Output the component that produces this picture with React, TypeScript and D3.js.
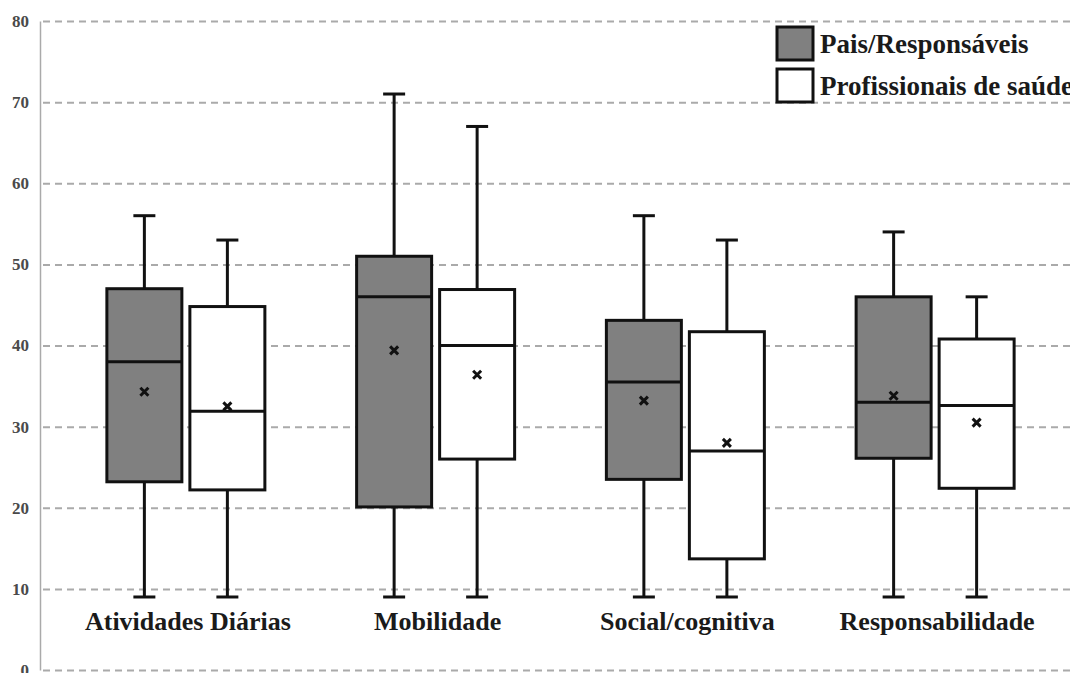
import React, { useRef, useEffect } from "react";
import { select, scaleLinear, scaleBand, axisLeft } from "d3";

// categories and series
const categories = ["Atividades Diárias", "Mobilidade", "Social/cognitiva", "Responsabilidade"];
const seriesNames = ["Pais/Responsáveis", "Profissionais de saúde"];
const seriesFill = ["#808080", "#ffffff"];
const yTicks = [0, 10, 20, 30, 40, 50, 60, 70, 80];

// Pais/Responsáveis
const paisMin = [9, 9, 9, 9];
const paisQ1 = [23.2, 20.1, 23.5, 26.1];
const paisMedian = [38, 46, 35.5, 33];
const paisQ3 = [47, 51, 43.1, 46];
const paisMax = [56, 71, 56, 54];
const paisMean = [34.3, 39.4, 33.2, 33.8];

// Profissionais de saúde
const profMin = [9, 9, 9, 9];
const profQ1 = [22.2, 26, 13.7, 22.4];
const profMedian = [31.9, 40, 27, 32.6];
const profQ3 = [44.8, 46.9, 41.7, 40.8];
const profMax = [53, 67, 53, 46];
const profMean = [32.5, 36.4, 28, 30.5];

interface BoxDatum {
  category: string;
  series: string;
  min: number;
  q1: number;
  median: number;
  q3: number;
  max: number;
  mean: number;
}

const boxes: BoxDatum[] = categories.flatMap((c, i) => [
  { category: c, series: seriesNames[0], min: paisMin[i], q1: paisQ1[i], median: paisMedian[i], q3: paisQ3[i], max: paisMax[i], mean: paisMean[i] },
  { category: c, series: seriesNames[1], min: profMin[i], q1: profQ1[i], median: profMedian[i], q3: profQ3[i], max: profMax[i], mean: profMean[i] },
]);

const WIDTH = 1070;
const HEIGHT = 673;
const FONT = "'Liberation Serif', 'Times New Roman', serif";

const App: React.FC = () => {
  const svgRef = useRef<SVGSVGElement>(null);

  useEffect(() => {
    const svg = select(svgRef.current!);
    svg.selectAll("*").remove();

    const axisX = 40;

    const y = scaleLinear().domain([0, 80]).range([670, 21]);

    // group bands, then one band per series inside a group
    const x = scaleBand<string>().domain(categories).range([61, 1060]).padding(0);
    const xSub = scaleBand<string>()
      .domain(seriesNames)
      .range([x.bandwidth() / 2 - 79, x.bandwidth() / 2 + 79])
      .paddingInner(0.0964)
      .paddingOuter(0);

    // y axis with dashed gridlines
    const yAxis = axisLeft(y)
      .tickValues(yTicks)
      .tickSize(-(WIDTH - axisX))
      .tickSizeOuter(0)
      .tickPadding(11);

    const gy = svg.append("g").attr("transform", `translate(${axisX},0)`).call(yAxis);
    gy.select(".domain").attr("stroke", "#aaa").attr("stroke-width", 1.5);
    gy.selectAll(".tick line")
      .attr("stroke", "#aaa")
      .attr("stroke-width", 2)
      .attr("stroke-dasharray", "7,5")
      .attr("x1", 3);
    gy.selectAll(".tick text")
      .attr("font-family", FONT)
      .attr("font-weight", "bold")
      .attr("font-size", 17)
      .attr("fill", "#4a4a4a");

    // boxes
    const g = svg
      .append("g")
      .selectAll("g.box")
      .data(boxes)
      .join("g")
      .attr("class", "box")
      .attr("transform", (d) => `translate(${x(d.category)! + xSub(d.series)!},0)`);

    const bw = xSub.bandwidth();
    const capHalf = 11;

    // whiskers
    g.append("line")
      .attr("x1", bw / 2)
      .attr("x2", bw / 2)
      .attr("y1", (d) => y(d.max))
      .attr("y2", (d) => y(d.q3))
      .attr("stroke", "#111")
      .attr("stroke-width", 3);
    g.append("line")
      .attr("x1", bw / 2)
      .attr("x2", bw / 2)
      .attr("y1", (d) => y(d.q1))
      .attr("y2", (d) => y(d.min))
      .attr("stroke", "#111")
      .attr("stroke-width", 3);
    g.append("line")
      .attr("x1", bw / 2 - capHalf)
      .attr("x2", bw / 2 + capHalf)
      .attr("y1", (d) => y(d.max))
      .attr("y2", (d) => y(d.max))
      .attr("stroke", "#111")
      .attr("stroke-width", 3);
    g.append("line")
      .attr("x1", bw / 2 - capHalf)
      .attr("x2", bw / 2 + capHalf)
      .attr("y1", (d) => y(d.min))
      .attr("y2", (d) => y(d.min))
      .attr("stroke", "#111")
      .attr("stroke-width", 3);

    // box body
    g.append("rect")
      .attr("x", 0)
      .attr("width", bw)
      .attr("y", (d) => y(d.q3))
      .attr("height", (d) => y(d.q1) - y(d.q3))
      .attr("fill", (d) => seriesFill[seriesNames.indexOf(d.series)])
      .attr("stroke", "#111")
      .attr("stroke-width", 3);

    // median
    g.append("line")
      .attr("x1", 0)
      .attr("x2", bw)
      .attr("y1", (d) => y(d.median))
      .attr("y2", (d) => y(d.median))
      .attr("stroke", "#111")
      .attr("stroke-width", 3);

    // mean marker (x)
    const m = 4;
    g.append("path")
      .attr("d", (d) => {
        const cy = y(d.mean);
        const cx = bw / 2;
        return `M${cx - m},${cy - m}L${cx + m},${cy + m}M${cx - m},${cy + m}L${cx + m},${cy - m}`;
      })
      .attr("stroke", "#111")
      .attr("stroke-width", 3)
      .attr("fill", "none");

    // category labels
    svg
      .append("g")
      .selectAll("text")
      .data(categories)
      .join("text")
      .attr("x", (d) => x(d)! + x.bandwidth() / 2 + 2)
      .attr("y", 630)
      .attr("text-anchor", "middle")
      .attr("font-family", FONT)
      .attr("font-weight", "bold")
      .attr("font-size", 26)
      .attr("fill", "#1a1a1a")
      .text((d) => d);

    // legend
    const legend = svg
      .append("g")
      .selectAll("g")
      .data(seriesNames)
      .join("g")
      .attr("transform", (_, i) => `translate(777,${27 + i * 42})`);
    legend
      .append("rect")
      .attr("width", 36)
      .attr("height", 33)
      .attr("fill", (_, i) => seriesFill[i])
      .attr("stroke", "#111")
      .attr("stroke-width", 3);
    legend
      .append("text")
      .attr("x", 43)
      .attr("y", 26)
      .attr("font-family", FONT)
      .attr("font-weight", "bold")
      .attr("font-size", 27)
      .attr("fill", "#1a1a1a")
      .text((d) => d);
  }, []);

  return (
    <div style={{ position: "absolute", left: 0, top: 0, width: WIDTH, height: HEIGHT, background: "#fff" }}>
      <svg ref={svgRef} width={WIDTH} height={HEIGHT} style={{ display: "block" }} />
    </div>
  );
};

export default App;
